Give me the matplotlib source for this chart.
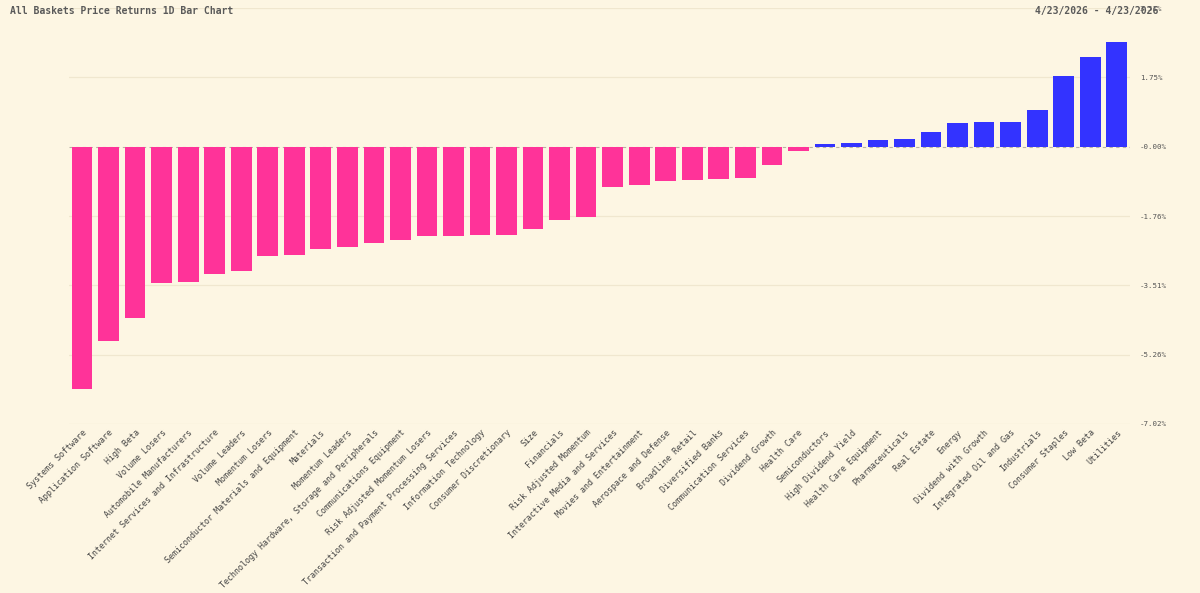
import numpy as np
import matplotlib
matplotlib.use("Agg")
import matplotlib.pyplot as plt

# basket names, sorted by 1D return
baskets = [
    "Systems Software", "Application Software", "High Beta", "Volume Losers",
    "Automobile Manufacturers", "Internet Services and Infrastructure",
    "Volume Leaders", "Momentum Losers", "Semiconductor Materials and Equipment",
    "Materials", "Momentum Leaders", "Technology Hardware, Storage and Peripherals",
    "Communications Equipment", "Risk Adjusted Momentum Losers",
    "Transaction and Payment Processing Services", "Information Technology",
    "Consumer Discretionary", "Size", "Financials", "Risk Adjusted Momentum",
    "Interactive Media and Services", "Movies and Entertainment",
    "Aerospace and Defense", "Broadline Retail", "Diversified Banks",
    "Communication Services", "Dividend Growth", "Health Care", "Semiconductors",
    "High Dividend Yield", "Health Care Equipment", "Pharmaceuticals",
    "Real Estate", "Energy", "Dividend with Growth", "Integrated Oil and Gas",
    "Industrials", "Consumer Staples", "Low Beta", "Utilities",
]

# returns in percent
returns = [
    -6.13, -4.93, -4.33, -3.44, -3.42, -3.22, -3.14, -2.77, -2.73, -2.60,
    -2.53, -2.44, -2.35, -2.27, -2.26, -2.24, -2.23, -2.09, -1.85, -1.79,
    -1.01, -0.98, -0.87, -0.84, -0.83, -0.79, -0.46, -0.12, 0.07, 0.10,
    0.18, 0.20, 0.37, 0.61, 0.63, 0.63, 0.92, 1.79, 2.27, 2.64,
]

ytick_vals = [3.51, 1.755, 0.0, -1.755, -3.51, -5.265, -7.02]
ytick_labels = ["3.51%", "1.75%", "-0.00%", "-1.76%", "-3.51%", "-5.26%", "-7.02%"]

title = "All Baskets Price Returns 1D Bar Chart"
date_range = "4/23/2026 - 4/23/2026"

bg = "#fdf6e3"
pink = "#ff3399"
blue = "#3333ff"
mono = "DejaVu Sans Mono"

fig = plt.figure(figsize=(12, 5.93), dpi=100, facecolor=bg)
ax = fig.add_axes([0.0573, 0.285, 0.8844, 0.7015], facecolor=bg)

x = np.arange(len(baskets))
colors = [pink if r < 0 else blue for r in returns]
ax.bar(x, returns, width=0.78, color=colors, zorder=3)

ax.set_xlim(-0.5, len(baskets) - 0.5)
ax.set_ylim(-7.02, 3.51)

for v in ytick_vals:
    if v == 0:
        ax.axhline(v, color="#b8b2a4", lw=0.8, ls=(0, (3, 3)), zorder=2)
    else:
        ax.axhline(v, color="#f0e7cf", lw=0.9, zorder=1)

ax.yaxis.tick_right()
ax.set_yticks(ytick_vals)
ax.set_yticklabels(ytick_labels, fontsize=5.4, family=mono, color="#555555")
ax.tick_params(axis="y", length=0, pad=7)

ax.set_xticks(x)
ax.set_xticklabels(baskets, rotation=45, ha="right", rotation_mode="anchor",
                   fontsize=6.0, family=mono, color="#444444")
ax.tick_params(axis="x", length=0, pad=3)

for s in ax.spines.values():
    s.set_visible(False)

fig.text(10 / 1200, 1 - 11 / 593, title, fontsize=7, family=mono, weight="bold",
         color="#5a5a5a", va="center", ha="left")
fig.text(1158 / 1200, 1 - 11 / 593, date_range, fontsize=7, family=mono,
         weight="bold", color="#5a5a5a", va="center", ha="right")

fig.savefig("out.png", dpi=100, facecolor=bg)
